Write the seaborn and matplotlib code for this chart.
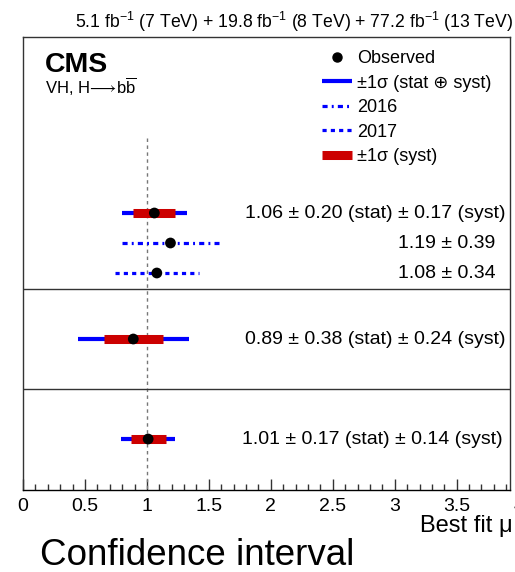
import matplotlib
matplotlib.use("Agg")
import matplotlib.pyplot as plt
import seaborn as sns
import pandas as pd
from matplotlib.lines import Line2D
from matplotlib.ticker import MultipleLocator

# ---------------- data ----------------
combo_mu = [1.06, 0.89, 1.01]
combo_stat = [0.20, 0.38, 0.17]
combo_syst = [0.17, 0.24, 0.14]
year_labels = ["2016", "2017"]
year_mu = [1.19, 1.08]
year_err = [0.39, 0.34]
xticks = [0, 0.5, 1, 1.5, 2, 2.5, 3, 3.5]
xtick_labels = ["0", "0.5", "1", "1.5", "2", "2.5", "3", "3.5"]
title = r"5.1 fb$^{-1}$ (7 TeV) + 19.8 fb$^{-1}$ (8 TeV) + 77.2 fb$^{-1}$ (13 TeV)"

# ---------------- layout (not data) ----------------
combo_rows = [176, 302, 402]
year_rows = [206, 236]
separators = [252, 352]
combo_text_x = [3.89, 3.89, 3.87]
year_text_x = [3.81, 3.81]

sns.set_style("white")
plt.rcParams["font.family"] = ["Liberation Sans", "DejaVu Sans"]
plt.rcParams["mathtext.fontset"] = "custom"
plt.rcParams["mathtext.rm"] = "Liberation Sans"
plt.rcParams["mathtext.it"] = "Liberation Sans:italic"
plt.rcParams["mathtext.bf"] = "Liberation Sans:bold"
plt.rcParams["mathtext.fallback"] = "stixsans"
plt.rcParams["text.color"] = "black"
plt.rcParams["xtick.color"] = "black"
plt.rcParams["xtick.labelcolor"] = "black"
plt.rcParams["lines.solid_capstyle"] = "butt"
plt.rcParams["lines.dash_capstyle"] = "butt"

W, H = 515, 572
fig = plt.figure(figsize=(W / 100, H / 100), dpi=100)
ax = fig.add_axes([23 / W, 1 - 490 / H, (510 - 23) / W, (490 - 37) / H])

BLUE = "#0000ff"
RED = "#cc0000"

ax.set_xlim(0, 3.93)
ax.set_ylim(453, 0)

# reference line at mu = 1
ax.vlines(1, 101, 453, colors="#777777", linestyles=(0, (2.5, 2.5)), lw=1.0, zorder=1)

# separators
for s in separators:
    ax.axhline(s, color="#333333", lw=1.0, zorder=1)

# combined fits
for m, st, sy, y in zip(combo_mu, combo_stat, combo_syst, combo_rows):
    tot = (st ** 2 + sy ** 2) ** 0.5
    ax.hlines(y, m - tot, m + tot, colors=BLUE, lw=3.0, zorder=2)
    ax.hlines(y, m - sy, m + sy, colors=RED, lw=6.5, zorder=3)

# per-year fits
year_styles = [(0, (1.6, 1.3, 0.6, 1.3)), (0, (1.3, 1.3))]
for m, e, y, ls in zip(year_mu, year_err, year_rows, year_styles):
    ax.hlines(y, m - e, m + e, colors=BLUE, lw=2.3, linestyles=[ls], zorder=2)

pts = pd.DataFrame({"mu": combo_mu + year_mu, "row": combo_rows + year_rows})
sns.scatterplot(data=pts, x="mu", y="row", ax=ax, color="black", s=60,
                edgecolor="none", zorder=4, legend=False)

# value texts
for m, st, sy, y, tx in zip(combo_mu, combo_stat, combo_syst, combo_rows, combo_text_x):
    ax.text(tx, y, f"{m:.2f} \u00b1 {st:.2f} (stat) \u00b1 {sy:.2f} (syst)",
            ha="right", va="center", fontsize=14)
for m, e, y, tx in zip(year_mu, year_err, year_rows, year_text_x):
    ax.text(tx, y, f"{m:.2f} \u00b1 {e:.2f}", ha="right", va="center", fontsize=14)

# axes styling
ax.set_xlabel("")
ax.set_ylabel("")
ax.set_yticks([])
ax.set_xticks(xticks)
ax.set_xticklabels(xtick_labels, fontsize=14)
ax.xaxis.set_minor_locator(MultipleLocator(0.1))
ax.tick_params(axis="x", which="major", direction="in", length=8, width=1,
               color="#333333", pad=6, bottom=True, top=False)
ax.tick_params(axis="x", which="minor", direction="in", length=4, width=1,
               color="#333333", bottom=True, top=False)
for sp in ax.spines.values():
    sp.set_visible(True)
    sp.set_color("#333333")
    sp.set_linewidth(1.0)
ax.spines["bottom"].set_color("black")
ax.annotate("4", xy=(4, 0), xycoords=ax.get_xaxis_transform(), xytext=(0, -6),
            textcoords="offset points", ha="center", va="top", fontsize=14,
            annotation_clip=False)

# legend
handles = [
    Line2D([], [], ls="none", marker="o", color="black", markersize=6.5),
    Line2D([], [], color=BLUE, lw=3.0),
    Line2D([], [], color=BLUE, lw=2.3, ls=year_styles[0]),
    Line2D([], [], color=BLUE, lw=2.3, ls=year_styles[1]),
    Line2D([], [], color=RED, lw=6.5),
]
labels = ["Observed", "\u00b11\u03c3 (stat \u2295 syst)", year_labels[0], year_labels[1],
          "\u00b11\u03c3 (syst)"]
leg = fig.legend(handles, labels, loc="upper left", bbox_to_anchor=(322 / W, 1 - 50 / H),
                 frameon=False, fontsize=13, handlelength=1.65, handletextpad=0.3,
                 labelspacing=0.42, borderpad=0, borderaxespad=0)
for t in leg.get_texts():
    t.set_color("black")

# texts
fig.text(513 / W, 1 - 28 / H, title, ha="right", va="baseline", fontsize=12.7)
fig.text(45 / W, 1 - 72 / H, "CMS", ha="left", va="baseline", fontsize=20.5, weight="bold")
fig.text(45 / W, 1 - 94 / H, r"VH, H$\!{\longrightarrow}\!$b$\overline{\mathrm{b}}$",
         ha="left", va="baseline", fontsize=12)
fig.text(513 / W, 1 - 532 / H, "Best fit \u03bc", ha="right", va="baseline", fontsize=17)
fig.text(40 / W, 1 - 565 / H, "Confidence interval", ha="left", va="baseline", fontsize=26.5)

fig.savefig("out.png", dpi=100)
